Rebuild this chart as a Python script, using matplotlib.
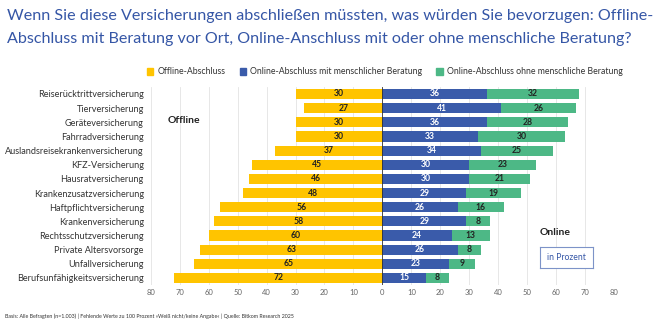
import matplotlib
matplotlib.use("Agg")
import matplotlib.pyplot as plt
from matplotlib.patches import Rectangle
import numpy as np

categories = [
    "Reiserücktrittversicherung", "Tierversicherung", "Geräteversicherung",
    "Fahrradversicherung", "Auslandsreisekrankenversicherung", "KFZ-Versicherung",
    "Hausratversicherung", "Krankenzusatzversicherung", "Haftpflichtversicherung",
    "Krankenversicherung", "Rechtsschutzversicherung", "Private Altersvorsorge",
    "Unfallversicherung", "Berufsunfähigkeitsversicherung",
]
offline = [30, 27, 30, 30, 37, 45, 46, 48, 56, 58, 60, 63, 65, 72]
online_mit = [36, 41, 36, 33, 34, 30, 30, 29, 26, 29, 24, 26, 23, 15]
online_ohne = [32, 26, 28, 30, 25, 23, 21, 19, 16, 8, 13, 8, 9, 8]
ticks = [-80, -70, -60, -50, -40, -30, -20, -10, 0, 10, 20, 30, 40, 50, 60, 70, 80]
series_names = ["Offline-Abschluss", "Online-Abschluss mit menschlicher Beratung",
                "Online-Abschluss ohne menschliche Beratung"]

YELLOW = "#FFC400"
BLUE = "#3A5BAA"
GREEN = "#4DB886"
TITLE = "#3556A6"
DARK = "#222222"
GRAY = "#666666"

plt.rcParams["font.family"] = ["Lato", "DejaVu Sans"]

fig = plt.figure(figsize=(6.61, 3.28), dpi=100)
ax = fig.add_axes([0.228, 0.131, 0.701, 0.604])

y = np.arange(len(categories))
off = np.array(offline)
mit = np.array(online_mit)
ohne = np.array(online_ohne)
h = 0.72

ax.barh(y, -off, height=h, color=YELLOW, zorder=3)
ax.barh(y, mit, height=h, color=BLUE, zorder=3)
ax.barh(y, ohne, left=mit, height=h, color=GREEN, zorder=3)

lab_kw = dict(ha="center", va="center", fontsize=6.2, fontweight="bold", zorder=4)
for i in range(len(categories)):
    ax.text(-off[i] / 2, y[i], str(off[i]), color=DARK, **lab_kw)
    ax.text(mit[i] / 2, y[i], str(mit[i]), color="white", **lab_kw)
    ax.text(mit[i] + ohne[i] / 2, y[i], str(ohne[i]), color=DARK, **lab_kw)

ax.set_xlim(-80, 80)
ax.set_ylim(len(categories) - 0.5, -0.5)
ax.set_xticks(ticks)
ax.set_xticklabels([str(abs(t)) for t in ticks], fontsize=5.5, color=GRAY)
ax.set_yticks(y)
ax.set_yticklabels(categories, fontsize=6.6, color="#333333")
ax.tick_params(axis="both", length=0, pad=3)
ax.tick_params(axis="y", pad=5)
for s in ax.spines.values():
    s.set_visible(False)
ax.grid(axis="x", color="#e3e3e3", linewidth=0.6, zorder=0)
ax.axvline(0, color="#333333", linewidth=0.6, zorder=5)

ax.text(-74, 1.85, "Offline", fontsize=7.5, fontweight="bold", color=DARK, ha="left", va="center")
ax.text(59.8, 9.8, "Online", fontsize=7.5, fontweight="bold", color=DARK, ha="center", va="center")

# "in Prozent" box
bx = fig.add_axes([540 / 661, 1 - 268 / 328, 53 / 661, 21 / 328])
bx.set_xticks([]); bx.set_yticks([])
for s in bx.spines.values():
    s.set_edgecolor("#7d93c8"); s.set_linewidth(0.8)
bx.text(0.5, 0.5, "in Prozent", fontsize=6.2, color=TITLE, ha="center", va="center",
        transform=bx.transAxes)

fig.text(7 / 661, 1 - 20 / 328,
         "Wenn Sie diese Versicherungen abschließen müssten, was würden Sie bevorzugen: Offline-",
         fontsize=11.6, color=TITLE, ha="left", va="baseline")
fig.text(7 / 661, 1 - 43 / 328,
         "Abschluss mit Beratung vor Ort, Online-Anschluss mit oder ohne menschliche Beratung?",
         fontsize=11.6, color=TITLE, ha="left", va="baseline")

handles = [Rectangle((0, 0), 1, 1, color=c) for c in (YELLOW, BLUE, GREEN)]
fig.legend(handles, series_names, loc="center", bbox_to_anchor=(385 / 661, 1 - 72 / 328),
           ncol=3, frameon=False, fontsize=6.3, handlelength=0.7, handleheight=0.7,
           handletextpad=0.5, columnspacing=1.6, labelcolor="#333333")

fig.text(5 / 661, 1 - 318 / 328,
         "Basis: Alle Befragten (n=1.003) | Fehlende Werte zu 100 Prozent »Weiß nicht/keine Angabe« | Quelle: Bitkom Research 2025",
         fontsize=3.8, color="#333333", ha="left", va="baseline")

fig.savefig("out.png", dpi=100)
